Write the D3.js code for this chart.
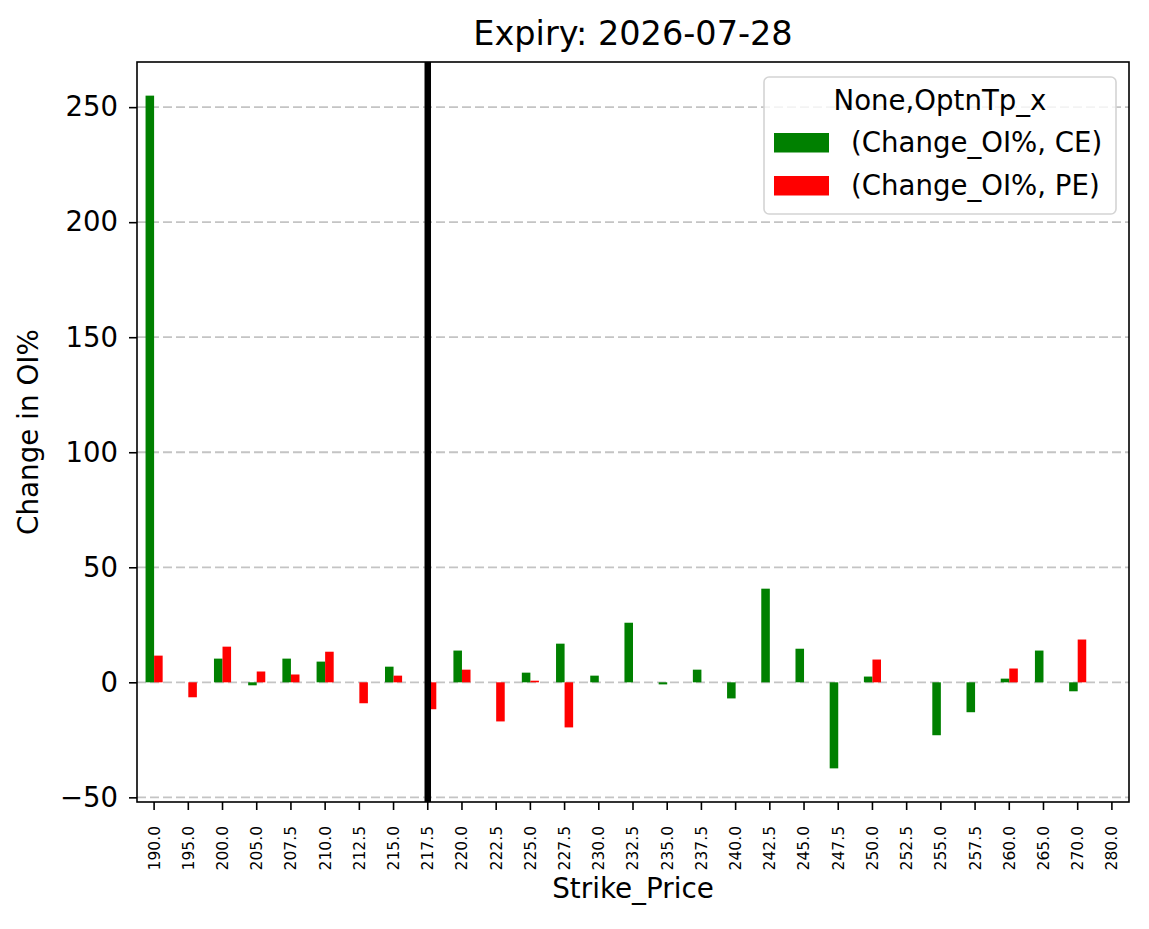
<!DOCTYPE html>
<html>
<head>
<meta charset="utf-8">
<script src="https://cdn.jsdelivr.net/npm/d3@7"></script>
<style>
  body { margin: 0; background: #fff; }
  svg text { font-family: "DejaVu Sans", sans-serif; fill: #000; }
</style>
</head>
<body>
<div id="chart"></div>
<script>
// strike prices (x categories)
var strikes = ['190.0', '195.0', '200.0', '205.0', '207.5', '210.0', '212.5', '215.0', '217.5', '220.0',
  '222.5', '225.0', '227.5', '230.0', '232.5', '235.0', '237.5', '240.0', '242.5', '245.0',
  '247.5', '250.0', '252.5', '255.0', '257.5', '260.0', '265.0', '270.0', '280.0'];

// Change_OI% for calls / puts (null = no bar)
var ceValues = [255, null, 10.3, -1.3, 10.3, 9.0, null, 6.8, null, 13.8,
  null, 4.2, 16.8, 2.9, 25.9, -0.9, 5.5, -7.0, 40.7, 14.6,
  -37.4, 2.5, null, -23.0, -13.0, 1.6, 13.8, -3.9, null];
var peValues = [11.6, -6.5, 15.5, 4.7, 3.4, 13.3, -9.1, 2.9, -11.7, 5.5,
  -17.0, 0.7, -19.6, null, null, null, null, null, null, null,
  null, 9.9, null, null, null, 6.0, null, 18.6, null];

var yTicks = [-50, 0, 50, 100, 150, 200, 250];
var seriesNames = ['CE', 'PE'];
var seriesLabels = ['(Change_OI%, CE)', '(Change_OI%, PE)'];
var seriesColors = ['#008000', '#ff0000'];
var spotStrike = '217.5';

var W = 1149, H = 929;
var plotL = 137, plotR = 1129, plotT = 62, plotB = 802;

var svg = d3.select('#chart').append('svg')
  .attr('width', W)
  .attr('height', H);

var x = d3.scaleBand().domain(strikes).range([plotL, plotR]).padding(0);
var xSub = d3.scaleBand().domain(seriesNames)
  .range([x.bandwidth() * 0.25, x.bandwidth() * 0.75]).padding(0);

// matplotlib-like 5% margins, bars always include 0
var all = ceValues.concat(peValues).filter((v) => v != null).concat([0]);
var lo = d3.min(all), hi = d3.max(all);
var pad = (hi - lo) * 0.05;
var y = d3.scaleLinear().domain([lo - pad, hi + pad]).range([plotB, plotT]);

// grid
svg.append('g')
  .selectAll('line')
  .data(yTicks)
  .join('line')
  .attr('x1', plotL)
  .attr('x2', plotR)
  .attr('y1', (d) => y(d))
  .attr('y2', (d) => y(d))
  .attr('stroke', '#c4c4c4')
  .attr('stroke-width', 1.8)
  .attr('stroke-dasharray', '9,4');

// bars
var rows = strikes.map((s, i) => ({ strike: s, CE: ceValues[i], PE: peValues[i] }));
seriesNames.forEach((name, k) => {
  svg.append('g')
    .selectAll('rect')
    .data(rows.filter((r) => r[name] != null))
    .join('rect')
    .attr('x', (d) => x(d.strike) + xSub(name))
    .attr('width', xSub.bandwidth())
    .attr('y', (d) => y(Math.max(0, d[name])))
    .attr('height', (d) => Math.abs(y(d[name]) - y(0)))
    .attr('fill', seriesColors[k]);
});

// spot line
svg.append('line')
  .attr('x1', x(spotStrike) + x.bandwidth() / 2)
  .attr('x2', x(spotStrike) + x.bandwidth() / 2)
  .attr('y1', plotT)
  .attr('y2', plotB)
  .attr('stroke', '#000')
  .attr('stroke-width', 6.5);

// axes
var xAxis = svg.append('g')
  .attr('transform', `translate(0,${plotB})`)
  .call(d3.axisBottom(x).tickSize(8).tickSizeOuter(0));
xAxis.select('.domain').remove();
xAxis.selectAll('.tick line').attr('stroke-width', 1.6);
xAxis.selectAll('.tick text')
  .attr('font-size', 15.5)
  .attr('transform', 'rotate(-90)')
  .attr('text-anchor', 'end')
  .attr('x', -24)
  .attr('y', 0)
  .attr('dy', '0.35em');

var yAxis = svg.append('g')
  .attr('transform', `translate(${plotL},0)`)
  .call(d3.axisLeft(y).tickValues(yTicks).tickSize(8).tickPadding(11).tickFormat((d) => (d < 0 ? '\u2212' + Math.abs(d) : d)));
yAxis.select('.domain').remove();
yAxis.selectAll('.tick line').attr('stroke-width', 1.6);
yAxis.selectAll('.tick text').attr('font-size', 27.5);

// frame
svg.append('rect')
  .attr('x', plotL)
  .attr('y', plotT)
  .attr('width', plotR - plotL)
  .attr('height', plotB - plotT)
  .attr('fill', 'none')
  .attr('stroke', '#000')
  .attr('stroke-width', 1.6);

// title + labels
svg.append('text')
  .attr('x', (plotL + plotR) / 2)
  .attr('y', 45)
  .attr('text-anchor', 'middle')
  .attr('font-size', 33.5)
  .text('Expiry: 2026-07-28');

svg.append('text')
  .attr('x', (plotL + plotR) / 2)
  .attr('y', 898)
  .attr('text-anchor', 'middle')
  .attr('font-size', 27.8)
  .text('Strike_Price');

svg.append('text')
  .attr('transform', `translate(38,${(plotT + plotB) / 2}) rotate(-90)`)
  .attr('text-anchor', 'middle')
  .attr('font-size', 27.8)
  .text('Change in OI%');

// legend
var legend = svg.append('g');
legend.append('rect')
  .attr('x', 764)
  .attr('y', 77)
  .attr('width', 352)
  .attr('height', 137)
  .attr('rx', 5)
  .attr('fill', 'rgba(255,255,255,0.8)')
  .attr('stroke', '#d4d4d4')
  .attr('stroke-width', 1.6);

legend.append('text')
  .attr('x', 940)
  .attr('y', 110)
  .attr('text-anchor', 'middle')
  .attr('font-size', 27.6)
  .text('None,OptnTp_x');

seriesNames.forEach((name, k) => {
  legend.append('rect')
    .attr('x', 774)
    .attr('y', 133 + k * 43)
    .attr('width', 55)
    .attr('height', 19.5)
    .attr('fill', seriesColors[k]);
  legend.append('text')
    .attr('x', 851)
    .attr('y', 152 + k * 43)
    .attr('font-size', 27.6)
    .text(seriesLabels[k]);
});
</script>
</body>
</html>
